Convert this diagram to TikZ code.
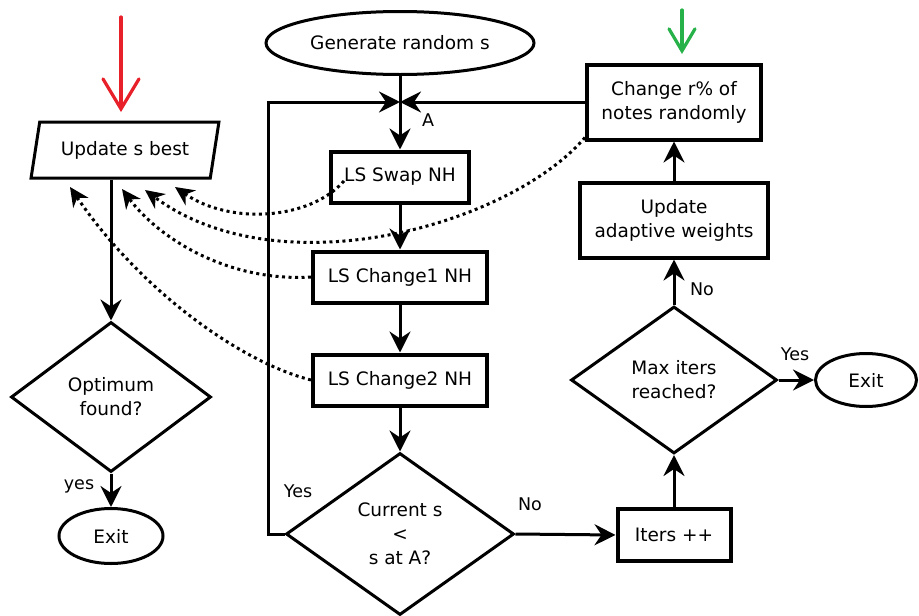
\documentclass[tikz,border=0pt]{standalone}
\usepackage{fontspec}
\setmainfont{DejaVu Sans}
\usetikzlibrary{shapes.geometric,arrows.meta,calc}
\definecolor{markred}{RGB}{232,32,42}
\definecolor{markgreen}{RGB}{38,178,72}
\begin{document}
\begin{tikzpicture}[x=1pt,y=-1pt,
  every node/.style={font=\fontsize{18.5}{24}\selectfont, align=center, inner sep=0pt},
  lbl/.style={font=\fontsize{17.5}{20}\selectfont},
  rectbox/.style={draw, rectangle, line width=4pt},
  diam/.style={draw, diamond, line width=3pt},
  oval/.style={draw, ellipse, line width=3pt},
  arr/.style={line width=3pt, -{Stealth[length=21pt,width=21pt,inset=7pt]}},
  darr/.style={line width=3pt, dash pattern=on 3pt off 3.5pt, -{Stealth[length=19pt,width=18pt,inset=6pt]}},
  pointer/.style={line width=3.2pt, line cap=round}
]
\useasboundingbox (0,0) rectangle (919,616);
\fill[white] (0,0) rectangle (919,616);

% nodes
\node[oval, minimum width=268, minimum height=63] (gen) at (400,43) {Generate random s};
\coordinate (J) at (400,102);
\node[rectbox, minimum width=138, minimum height=51] (swap) at (400,177) {LS Swap NH};
\node[rectbox, minimum width=174, minimum height=51] (ch1) at (400,277) {LS Change1 NH};
\node[rectbox, minimum width=174, minimum height=51] (ch2) at (400,380) {LS Change2 NH};
\node[diam, minimum width=228, minimum height=162] (cur) at (400,534) {Current s\\<\\s at A?};
\node[rectbox, minimum width=113, minimum height=52] (iters) at (674,535) {Iters ++};
\node[diam, minimum width=206, minimum height=147] (max) at (674,380) {Max iters\\reached?};
\node[oval, minimum width=101, minimum height=53] (exitR) at (866,380) {Exit};
\node[rectbox, minimum width=188, minimum height=75] (upd) at (674,220) {Update\\adaptive weights};
\node[rectbox, minimum width=174, minimum height=75] (chg) at (674,102) {Change r\% of\\notes randomly};
\node[draw, trapezium, trapezium left angle=70, trapezium right angle=110, trapezium stretches=true,
      line width=3pt, minimum width=188, minimum height=56] (best) at (125,150) {Update s best};
\node[diam, minimum width=200, minimum height=150] (opt) at (111,397) {Optimum\\found?};
\node[oval, minimum width=104, minimum height=55] (exitL) at (111,536) {Exit};

% labels
\node[lbl] (lA) at (428,120) {A};
\node[lbl] (lyes) at (79,486) {yes};
\node[lbl] (lYes1) at (298,491) {Yes};
\node[lbl] (lNo1) at (530,504) {No};
\node[lbl] (lYes2) at (795,354) {Yes};
\node[lbl] (lNo2) at (702,289) {No};

% main flow
\draw[arr] (gen) -- (swap);
\draw[arr] (cur.west) -- ++(-16,0) |- (J);
\draw[arr] (chg.west) -- (J);
\draw[arr] (swap) -- (ch1);
\draw[arr] (ch1) -- (ch2);
\draw[arr] (ch2) -- (cur);
\draw[arr] (cur.east) -- (iters.west);
\draw[arr] (iters) -- (max);
\draw[arr] (max) -- (upd);
\draw[arr] (upd) -- (chg);
\draw[arr] (max.east) -- (exitR.west);
\draw[arr] (best.south -| opt.north) -- (opt.north);
\draw[arr] (opt) -- (exitL);

% dotted feedback arrows
\coordinate (t1) at (175,187);
\coordinate (t2) at (145,190);
\coordinate (t3) at (122,189);
\coordinate (t4) at (70,187);
\draw[darr] ($(swap.west)+(15,4)$) .. controls (310,220) and (230,225) .. (t1);
\draw[darr] ($(chg.south west)+(0,-4)$) .. controls (510,225) and (280,290) .. (t2);
\draw[darr] (ch1.west) .. controls (230,282) and (160,240) .. (t3);
\draw[darr] (ch2.west) .. controls (240,362) and (140,290) .. (t4);

% colored markers
\coordinate (r0) at (121,17);
\coordinate (r1) at (121,112);
\draw[pointer, markred, -{Straight Barb[length=30pt,width=36pt,line cap=round]}] (r0) -- (r1);
\coordinate (g0) at (682,10);
\coordinate (g1) at (682,54);
\draw[pointer, markgreen, -{Straight Barb[length=22pt,width=26pt,line cap=round]}] (g0) -- (g1);
\end{tikzpicture}
\end{document}
